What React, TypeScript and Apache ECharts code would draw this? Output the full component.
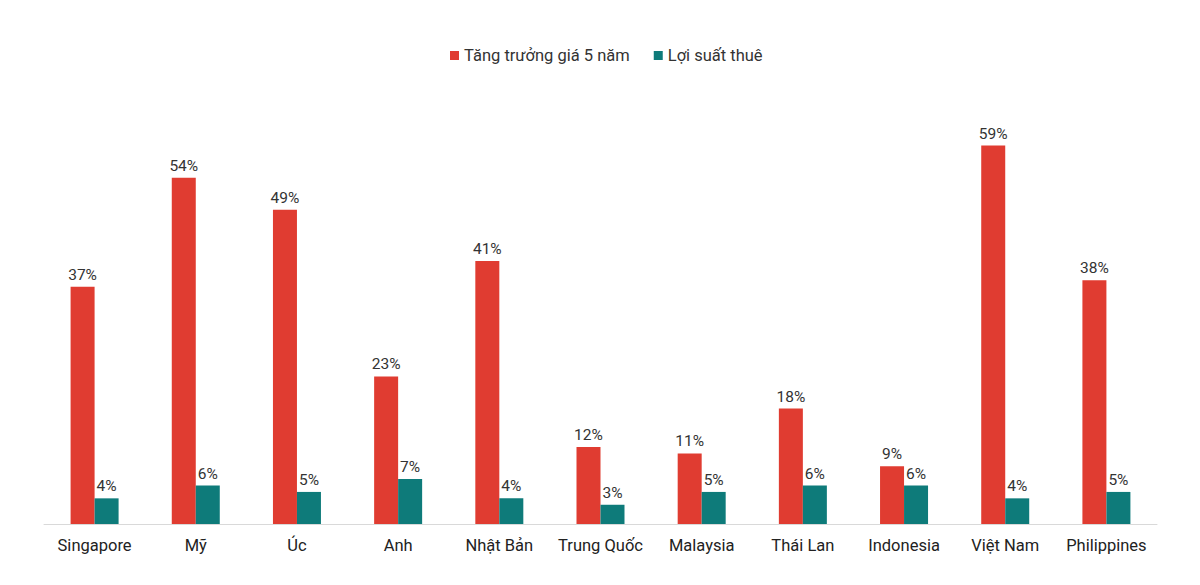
import React, { useEffect, useRef } from "react";
import * as echarts from "echarts";

const categories = ["Singapore", "Mỹ", "Úc", "Anh", "Nhật Bản", "Trung Quốc", "Malaysia", "Thái Lan", "Indonesia", "Việt Nam", "Philippines"];
const growth = [37, 54, 49, 23, 41, 12, 11, 18, 9, 59, 38];
const yieldVals = [4, 6, 5, 7, 4, 3, 5, 6, 6, 4, 5];
const seriesNames = ["Tăng trưởng giá 5 năm", "Lợi suất thuê"];

export default function App() {
  const ref = useRef<HTMLDivElement>(null);
  useEffect(() => {
    const chart = echarts.init(ref.current!, null, { renderer: "svg" });
    const font = "Roboto, 'Noto Sans', sans-serif";
    const label = {
      show: true,
      position: "top",
      formatter: "{c}%",
      color: "#333",
      fontSize: 15.5,
      fontFamily: font,
      distance: 4,
    };
    chart.setOption({
      animation: false,
      backgroundColor: "#fff",
      legend: {
        top: 42,
        left: 445,
        itemWidth: 9,
        itemHeight: 9,
        itemGap: 24,
        icon: "rect",
        textStyle: { fontSize: 16.5, color: "#333", fontFamily: font },
        data: seriesNames,
      },
      grid: { left: 44, right: 43, top: 75, bottom: 61, containLabel: false },
      xAxis: {
        type: "category",
        data: categories,
        axisLine: { lineStyle: { color: "#d9d9d9" } },
        axisTick: { show: false },
        axisLabel: { interval: 0, fontSize: 16.5, color: "#222", fontFamily: font, margin: 13 },
      },
      yAxis: {
        type: "value",
        min: 0,
        max: 70,
        show: false,
        splitLine: { show: false },
      },
      series: [
        {
          name: seriesNames[0],
          type: "bar",
          data: growth,
          barWidth: 24,
          barGap: "0%",
          itemStyle: { color: "#E03C31" },
          label,
        },
        {
          name: seriesNames[1],
          type: "bar",
          data: yieldVals,
          barWidth: 24,
          itemStyle: { color: "#0E7B7A" },
          label,
        },
      ],
    });
    return () => chart.dispose();
  }, []);
  return <div ref={ref} style={{ width: 1200, height: 585, position: "absolute", left: 0, top: 0 }} />;
}
